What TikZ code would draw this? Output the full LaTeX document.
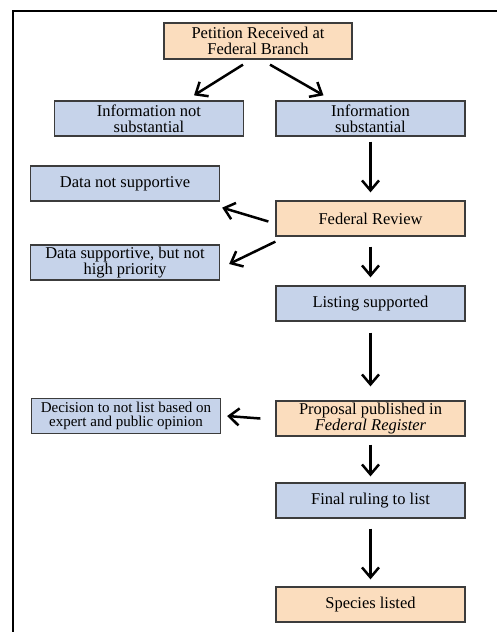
\documentclass[tikz,border=0pt]{standalone}
\usepackage{fontspec}
\setmainfont{Liberation Serif}
\usepackage{tikz}
\usetikzlibrary{arrows.meta, positioning}

\definecolor{boxblue}{RGB}{198,211,234}
\definecolor{boxpeach}{RGB}{251,221,190}
\definecolor{boxline}{RGB}{60,60,60}

\begin{document}
\begin{tikzpicture}[
        x=1pt, y=-1pt,
        font=\fontsize{16.5}{16}\selectfont,
        >={Straight Barb[length=10pt, width=17pt]},
        box/.style={draw=boxline, line width=1.3pt, align=center,
            minimum width=189pt, minimum height=35pt, inner sep=0pt},
        bluebox/.style={box, fill=boxblue},
        peachbox/.style={box, fill=boxpeach},
        flow/.style={->, line width=2.5pt}
    ]

    \useasboundingbox (0,0) rectangle (497,632);

    % Frame (top and left only)
    \draw[line width=2.2pt] (497,11) -- (13,11) -- (13,632);

    % Main column
    \node[peachbox, minimum width=188pt, minimum height=36pt] (petition) at (258,41)
        {Petition Received at\\Federal Branch};
    \node[bluebox] (infono) at (149,118.5) {Information not\\substantial};
    \node[bluebox] (infoyes) at (370.5,118.5) {Information\\substantial};
    \node[peachbox] (review) at (370.5,218.5) {Federal Review};
    \node[bluebox] (listing) at (370.5,303.5) {Listing supported};
    \node[peachbox] (proposal) at (370.5,418.5)
        {Proposal published in\\\textit{Federal Register}};
    \node[bluebox] (ruling) at (370.5,500.5) {Final ruling to list};
    \node[peachbox] (species) at (370.5,604.5) {Species listed};

    % Side outcomes
    \node[bluebox] (datano) at (125,183.5) {Data not supportive};
    \node[bluebox] (datalow) at (125,262.5) {Data supportive, but not\\high priority};
    \node[bluebox, font=\fontsize{15}{13.5}\selectfont] (decision) at (126,416)
        {Decision to not list based on\\expert and public opinion};

    % Arrows
    \draw[flow] ([shift={(-15,5)}]petition.south) -- ([shift={(45,-5)}]infono.north);
    \draw[flow] ([shift={(12,5)}]petition.south) -- ([shift={(-47,-5)}]infoyes.north);
    \draw[flow, shorten <=5pt, shorten >=8pt] (infoyes) -- (review);
    \draw[flow] ([shift={(-7,3)}]review.west) -- ([shift={(2,6)}]datano.south east);
    \draw[flow] ([shift={(0,5)}]review.south west) -- ([shift={(9,1.5)}]datalow.east);
    \draw[flow, shorten <=10pt, shorten >=8pt] (review) -- (listing);
    \draw[flow, shorten <=11pt, shorten >=14pt] (listing) -- (proposal);
    \draw[flow] ([xshift=-15pt]proposal.west) -- ([xshift=6pt]decision.east);
    \draw[flow, shorten <=8pt, shorten >=6pt] (proposal) -- (ruling);
    \draw[flow, shorten <=10pt, shorten >=7pt] (ruling) -- (species);

\end{tikzpicture}
\end{document}
